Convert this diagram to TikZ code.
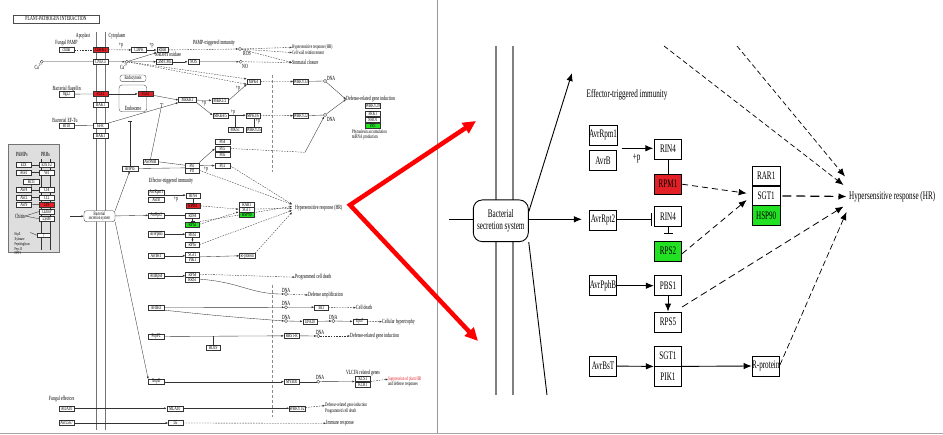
\documentclass[tikz,border=0pt]{standalone}
\usepackage{fontspec}
\setmainfont{Liberation Serif}
\newfontfamily\cnd[FakeStretch=0.62]{Liberation Serif}
\usetikzlibrary{arrows.meta}
\definecolor{kred}{RGB}{226,32,38}
\definecolor{kgrn}{RGB}{34,224,34}
\definecolor{lgfill}{RGB}{222,222,222}
\newcommand\lfnt{\cnd\fontsize{6.3}{6.6}\selectfont}
\newcommand\tfnt{\cnd\fontsize{5.4}{5.6}\selectfont}
\newcommand\bfnt{\cnd\fontsize{5.6}{5.8}\selectfont}
\newcommand\sfnt{\cnd\fontsize{4.3}{2.6}\selectfont}
\newcommand\rfnt{\cnd\fontsize{11.5}{12.5}\selectfont}
\begin{document}
\begin{tikzpicture}[x=1pt,y=-1pt,
  lb/.style={draw=black!80, line width=0.35pt, fill=white, minimum width=15pt, minimum height=5pt, inner sep=0pt, font=\bfnt},
  lred/.style={lb, fill=kred},
  lgrn/.style={lb, fill=kgrn},
  lt/.style={font=\lfnt, inner sep=0pt},
  lts/.style={font=\tfnt, inner sep=0pt, anchor=west},
  ll/.style={line width=0.35pt, draw=black!80},
  la/.style={ll, -{Latex[length=2.4pt,width=2pt]}},
  ld/.style={ll, dash pattern=on 1.6pt off 1.1pt},
  lda/.style={ld, -{Latex[length=2.4pt,width=2pt]}},
  lbar/.style={ll, -{Bar[width=4pt]}},
  dnac/.style={circle, draw=black!80, line width=0.35pt, inner sep=0pt, minimum size=3.2pt, fill=white},
  mem/.style={draw=black!55, line width=1.2pt},
  nuc/.style={draw=black!45, line width=0.8pt, dash pattern=on 3pt off 2pt},
  rb/.style={draw, line width=0.8pt, fill=white, minimum width=27.4pt, minimum height=20pt, inner sep=0pt, font=\rfnt},
  rred/.style={rb, fill=kred},
  rgrn/.style={rb, fill=kgrn},
  rl/.style={line width=0.9pt},
  ra/.style={rl, -{Latex[length=8pt,width=6.5pt]}},
  rd/.style={line width=0.8pt, dash pattern=on 6pt off 4pt, -{Latex[length=8pt,width=6.5pt]}},
  rdthick/.style={line width=1.2pt, dash pattern=on 9pt off 5pt, -{Latex[length=8pt,width=6.5pt]}},
  rmem/.style={draw=black!50, line width=1.7pt},
  bigred/.style={draw=red, line width=4.5pt, line join=miter}
]
\useasboundingbox (0,0) rectangle (943,435);
\fill[white] (0,0) rectangle (943,435);

% ---------------- frame lines
\draw[draw=black!40, line width=1pt] (437,0) -- (437,433);
\draw[draw=black!35, line width=1pt] (0,433.5) -- (943,433.5);

% ================= overview map =================
\node[draw=black!70, line width=0.4pt, minimum width=86.6pt, minimum height=7.7pt, inner sep=0pt, font=\lfnt] (title) at (56,18.9) {PLANT-PATHOGEN INTERACTION};
\node[lt] (apo) at (83,36) {Apoplast};
\node[lt] (cyto) at (117,36) {Cytoplasm};

% plasma membrane
\draw[mem] (96.5,32) -- (96.5,430);
\draw[mem] (105.5,32) -- (105.5,430);
% nucleus boundary
\draw[nuc] (272.7,75) -- (272.7,172);
\draw[nuc] (272.7,285) -- (272.7,417);

% endosome
\node[draw=black!70, line width=0.35pt, rounded corners=3pt, minimum width=27.7pt, minimum height=26.7pt, inner sep=0pt] (endo) at (132.9,98.4) {};
\node[lt] (endol) at (133,108.3) {Endosome};
\node[draw=black!70, line width=0.35pt, rounded corners=2.5pt, minimum width=26pt, minimum height=6.7pt, inner sep=0pt, font=\bfnt] (endoc) at (133,78.3) {Endocytosis};

% PAMP-triggered immunity
\node[lt] (fpl) at (66.5,42.7) {Fungal PAMP};
\node[lb] (chit) at (66.5,49.7) {chitin};
\node[lred] (cerk) at (100.5,49.7) {CERK1};
\node[lb] (cdpk) at (139,50) {CDPK};
\node[lb, minimum width=11.6pt] (rboh) at (162.5,50) {Rboh};
\node[lt] (pp1) at (121,45.5) {+p};
\node[lt] (pp2) at (151.5,45.5) {+p};
\node[lt] (nadph) at (168,54.8) {NADPH oxidase};
\node[lt] (ptil) at (214,42.5) {PAMP-triggered immunity};
\node[dnac] (ros) at (240,49) {};
\node[lt] (rosl) at (247,53) {ROS};
\node[lts] (hr1) at (292,47.4) {Hypersensitive response (HR)};
\node[lts] (cwr) at (292,52.6) {Cell wall reinforcement};
\node[dnac] (ca1) at (41.7,61.7) {};
\node[lt] (ca1l) at (38.5,66.8) {Ca\textsuperscript{2+}};
\node[lb] (cngc) at (100.5,61.8) {CNGCs};
\node[dnac] (ca2) at (126.7,61.7) {};
\node[lt] (ca2l) at (124,66.8) {Ca\textsuperscript{2+}};
\node[lb] (cam) at (164,61.8) {CaM/CML};
\node[lb, minimum width=11.6pt] (nos) at (193.5,61.8) {NOS};
\node[dnac] (no) at (240.7,61.7) {};
\node[lt] (nol) at (245,66) {NO};
\node[lt, anchor=west] (stom) at (292,62.6) {Stomatal closure};

\node[lt] (flagl) at (66.7,88.5) {Bacterial flagellin};
\node[lb] (flg) at (66.5,94.2) {flg22};
\node[lred] (fls2) at (100.5,93.9) {FLS2};
\node[lb] (bak1a) at (100.5,104.5) {BAK1};
\node[lred] (fls2e) at (145.5,93.9) {FLS2};
\node[lb, minimum width=18pt] (mekk1) at (187.5,100) {MEKK1};
\node[lb, minimum width=16.6pt] (mkk12) at (220,100.5) {MKK1/2};
\node[lb, minimum width=13pt] (mpk4) at (253.5,81.6) {MPK4};
\node[lb, minimum width=15.6pt] (mkk45) at (220.5,115.2) {MKK4/5};
\node[lb, minimum width=14pt] (mpk36) at (253,115.2) {MPK3/6};
\node[lb] (mks1) at (235.2,129.2) {MKS1};
\node[lb] (wrky25) at (253.8,129.2) {WRKY25};
\node[lt] (pp3) at (204,103.5) {+p};
\node[lt] (pp4) at (238,88.5) {+p};
\node[lt] (pp5) at (233,112.5) {+p};
\node[lt] (pp6) at (258,121.5) {+p};
\node[lb] (wrky33) at (300.8,81.5) {WRKY33};
\node[dnac] (dna1) at (325,81) {};
\node[lt] (dna1l) at (331,78) {DNA};
\node[lt, anchor=west] (dgi1) at (346,99.3) {Defense-related gene induction};
\node[lb, minimum width=14.3pt] (g1) at (372.8,106) {WRKY29};
\node[lb, minimum width=14.3pt] (g2) at (372.8,113.3) {FRK1};
\node[lb, minimum width=14.3pt] (g3) at (372.8,119.8) {NHO1};
\node[lgrn, minimum width=14.3pt] (g4) at (372.8,125.8) {PR1};
\node[lts] (phyto) at (351.7,132) {Phytoalexin accumulation};
\node[lts] (mirna) at (351.7,137.2) {miRNA production};
\node[lb] (wrky22) at (300.8,115.8) {WRKY22};
\node[dnac] (dna2) at (325,115) {};
\node[lt] (dna2l) at (331,119.5) {DNA};

\node[lt] (eftul) at (65,120) {Bacterial EF-Tu};
\node[lb] (elf) at (66.5,125.5) {elf18};
\node[lb] (efr) at (100.5,125.8) {EFR};
\node[lb] (bak1b) at (100.5,135.8) {BAK1};

% effector-triggered immunity
\node[lb] (pti4) at (222.5,141.8) {Pti4};
\node[lb] (pti5) at (222.5,148.5) {Pti5};
\node[lb] (pti6) at (222.5,154.8) {Pti6};
\node[lb, minimum width=16pt] (avrpto) at (129.7,168.5) {AvrPto};
\node[lb, minimum width=15.6pt] (avrptob) at (150.5,161.8) {AvrPtoB};
\node[lb, minimum width=14pt] (pto) at (192,165.2) {Pto};
\node[lb, minimum width=14pt] (prf) at (192,170.2) {Prf};
\node[lb] (pti1) at (222.5,165.8) {Pti1};
\node[lt] (pp7) at (206,169) {+p};
\node[lt] (etil) at (171,180.7) {Effector-triggered immunity};
\node[lb, minimum width=15.7pt] (avrrpm1) at (156.2,192.5) {AvrRpm1};
\node[lb, minimum width=15.7pt] (avrb) at (156.2,199.2) {AvrB};
\node[lb, minimum width=14pt] (rin4a) at (193,195.8) {RIN4};
\node[lred, minimum width=14pt] (rpm1) at (193,205.2) {RPM1};
\node[lt] (pp8) at (176,199.5) {+p};
\node[lb, minimum width=15.7pt] (rar1) at (246.7,204.2) {RAR1};
\node[lb, minimum width=15.7pt] (sgt1a) at (246.7,209.2) {SGT1};
\node[lgrn, minimum width=15.7pt] (hsp) at (246.7,214.5) {HSP90};
\node[lt, anchor=west] (hrl) at (295,208.3) {Hypersensitive response (HR)};
\coordinate (hrA) at (292,204.3);
\coordinate (hrB) at (292,206.3);
\coordinate (hrC) at (292,208.3);
\coordinate (hrD) at (292,210.3);
\coordinate (hrE) at (292,212.3);
\node[lb, rounded corners=2.5pt, minimum width=31pt, minimum height=11pt, align=center, font=\cnd\fontsize{5.2}{4.6}\selectfont] (sec) at (99.5,216.2) {Bacterial\\secretion system};
\coordinate (secin) at (70,216.2);
\node[lb, minimum width=15.7pt] (avrrpt2) at (156.2,215.2) {AvrRpt2};
\node[lb, minimum width=14pt] (rin4b) at (192.5,215.2) {RIN4};
\node[lgrn, minimum width=14pt] (rps2) at (192.5,224.2) {RPS2};
\node[lb, minimum width=15.7pt] (avrpphb) at (156.2,234.2) {AvrPphB};
\node[lb, minimum width=14pt] (pbs1) at (192.5,234.2) {PBS1};
\node[lb, minimum width=14pt] (rps5) at (192.5,244.5) {RPS5};
\node[lb, minimum width=15.7pt] (avrbst) at (156.2,255.8) {AvrBsT};
\node[lb, minimum width=14pt] (sgt1b) at (192.5,254.2) {SGT1};
\node[lb, minimum width=14pt] (pik1) at (192.5,259.2) {PIK1};
\node[lb, minimum width=15.7pt] (rprot) at (247.2,255.8) {R-protein};
\node[lb, minimum width=15.7pt] (avrrps4) at (156.2,275.8) {AvrRps4};
\node[lb, minimum width=14pt] (rps4) at (192.5,274.2) {RPS4};
\node[lb, minimum width=14pt] (rrs1) at (192.5,279.2) {RRS1};
\node[lt, anchor=west] (pcd1) at (295,277.2) {Programmed cell death};
\node[dnac] (dna3) at (286,294) {};
\node[lt] (dna3l) at (286,290) {DNA};
\node[lt, anchor=west] (defamp) at (308,295) {Defense amplification};
\node[lb, minimum width=15.7pt] (avrbs3) at (156.2,307.5) {AvrBs3};
\node[dnac] (dna4) at (286,307.3) {};
\node[lt] (dna4l) at (286,303.3) {DNA};
\node[lb, minimum width=14pt] (bs3) at (321.3,307.2) {Bs3};
\node[lt, anchor=west] (celld) at (356,307.7) {Cell death};
\node[dnac] (dna5) at (286,321) {};
\node[lt] (dna5l) at (286,317) {DNA};
\node[lb, minimum width=14.6pt] (upa20) at (310,321.5) {UPA20};
\node[dnac] (dna6) at (333.3,321) {};
\node[lt] (dna6l) at (333.3,317) {DNA};
\node[lb, minimum width=14pt] (upa7) at (359.7,321.5) {Upa7};
\node[lt, anchor=west] (hyper) at (382,321.7) {Cellular hypertrophy};
\node[lb, minimum width=15.7pt] (popp2) at (156.2,336.5) {PopP2};
\node[lb, minimum width=14.6pt] (rd19) at (213.3,347.5) {RD19};
\node[lb, minimum width=15.3pt] (rrs1r) at (291.7,335.8) {RRS1-R};
\node[dnac] (dna7) at (318.3,336) {};
\node[lt] (dna7l) at (320,332) {DNA};
\node[lt, anchor=west] (dgi2) at (350,336) {Defense-related gene induction};
\node[lb, minimum width=15.7pt] (xopd) at (156.2,381.7) {XopD};
\node[lb, minimum width=15.3pt] (myb30) at (291.7,381.7) {MYB30};
\node[dnac] (dna8) at (318.3,381.7) {};
\node[lt] (dna8l) at (320,377.5) {DNA};
\node[lt] (vlcfa) at (363,372.7) {VLCFA related genes};
\node[lb, minimum width=15.7pt] (kcs1) at (362.8,378.8) {KCS1};
\node[lb, minimum width=15.7pt] (kcr1) at (362.8,385) {KCR1};
\node[lts, text=kred] (supp) at (388,379.2) {Suppression of plant HR};
\node[lts] (supp2) at (388,384.4) {and defense responses};
\node[lt] (fungl) at (61.7,399.3) {Fungal effectors};
\node[lb] (avra10) at (66.7,408.3) {AvrA10};
\node[lb, minimum width=16pt] (mla10) at (174.7,408.3) {MLA10};
\node[lb, minimum width=15.7pt] (wrky12) at (297.2,408.3) {WRKY1/2};
\node[lts] (dgi3) at (325,405.6) {Defense-related gene induction};
\node[lts] (pcd2) at (325,410.8) {Programmed cell death};
\node[lb] (avrl) at (66.7,423) {AvrL567};
\node[lb, minimum width=14.4pt] (l6) at (175.5,423) {L6};
\node[lt, anchor=west] (immune) at (326,423.3) {Immune response};

% legend of further PAMPs / PRRs
\node[draw=black!55, line width=1pt, fill=lgfill, minimum width=51pt, minimum height=107.3pt, inner sep=0pt] (legend) at (33.8,198.6) {};
\draw[ll] (41,159) -- (41,250);
\draw[ll] (50,159) -- (50,250);
\node[lt] (pampsl) at (21.7,154) {PAMPs};
\node[lt] (prrsl) at (45.5,154) {PRRs};
\node[lb, minimum width=15.7pt] (eix) at (23.8,164.8) {EIX};
\node[lb, minimum width=15.7pt] (ave1) at (23.8,172.3) {Ave1};
\node[lb, minimum width=16pt] (rcr3) at (31.3,181.5) {Rcr3};
\node[lb, minimum width=15.7pt] (avr4) at (23.8,189.8) {Avr4};
\node[lb, minimum width=15.7pt] (avr2) at (23.8,197.2) {Avr2};
\node[lb, minimum width=15.7pt] (avr9) at (23.8,204.8) {Avr9};
\node[lb, minimum width=14.7pt] (eixr) at (46.7,164.8) {EIX1/2};
\node[lb, minimum width=14.7pt] (ve1) at (46.7,172.3) {Ve1};
\node[lb, minimum width=14.7pt] (cf4) at (46.7,189.8) {Cf4};
\node[lb, minimum width=14.7pt] (cf2) at (46.7,197.2) {Cf2};
\node[lred, minimum width=14.7pt] (cf9) at (46.7,204.5) {Cf9};
\node[lb, minimum width=14.7pt] (cebip) at (46.7,211.5) {CEBiP};
\node[lb, minimum width=14.7pt] (lysm) at (46.7,218.8) {LysM};
\node[lt] (chitl) at (20,216) {Chitin};
\node[font=\sfnt, inner sep=0pt, align=left, anchor=north west] (misc) at (14.5,232.5) {HrpZ\\Xylanase\\Peptidoglycan\\Pep-13\\NPP1};
\node[lb, minimum width=12.7pt, minimum height=4pt] (unk) at (43.7,235.3) {?};
\draw[ll] (eix) -- (eixr);
\draw[ll] (ave1) -- (ve1);
\draw[ll] (avr4) -- (cf4);
\draw[ll] (avr2) -- (cf2);
\draw[ll] (avr2.north east) -- (rcr3.south);
\draw[ll] (avr9) -- (cf9);
\draw[ll] (chitl.east) -- (cebip.west);
\draw[ll] (chitl.east) -- (lysm.west);
\draw[ll] (misc.north east) -- (unk.west);

% ---- connectors, PAMP-triggered immunity
\draw[ld] (chit) -- (cerk);
\draw[lda] (cerk) -- (cdpk);
\draw[la] (cdpk) -- (rboh);
\draw[lda] (rboh) -- (ros);
\draw[lda] (ros) -- (hr1.west);
\draw[lda] (ros) -- (cwr.west);
\draw[lda] (ros) -- (stom.west);
\draw[ll] (ca1) -- (cngc);
\draw[la] (cngc) -- (ca2);
\draw[la] (ca2) -- (cam);
\draw[la] (cam) -- (nos);
\draw[la] (nos) -- (no);
\draw[lda] (no) -- (stom.west);
\draw[la] (ca2) -- (rboh.south west);
\draw[lda] (ca2) -- (mpk4.north west);
\draw[lda] (ca2) -- (mpk4.south west);
\draw[ll] (flg) -- (fls2);
\draw[la] (fls2) -- (fls2e);
\draw[la] (fls2e) -- (mekk1.west);
\draw[ll] (elf) -- (efr);
\draw[la] (efr.north east) -- (mekk1.south west);
\draw[la] (mekk1) -- (mkk12);
\draw[la] (mkk12.east) -- (mpk4.south west);
\draw[la] (mekk1.south east) -- (mkk45.west);
\draw[la] (mkk45) -- (mpk36);
\draw[ll] (mks1.north) -- (mks1.north |- mpk36.west);
\draw[ll] (wrky25.north) -- (wrky25.north |- mpk36.south);
\draw[lda] (mpk4) -- (wrky33);
\draw[ll] (wrky33) -- (dna1);
\draw[la] (dna1) -- (dgi1.west);
\draw[lda] (mpk36) -- (wrky22);
\draw[ll] (wrky22) -- (dna2);
\draw[la] (dna2) -- (dgi1.west);

% ---- connectors, effector-triggered immunity
\coordinate (ptoinh) at (129.7,121.5);
\coordinate (fls2inh) at (162,103.5);
\coordinate (ptibend) at (305,152.3);
\draw[la] (secin) -- (sec);
\draw[la] (sec.north east) -- (avrpto.south);
\draw[lbar] (avrpto.north) -- (ptoinh);
\draw[lbar] (avrptob.north) -- (fls2inh);
\draw[ll] (avrpto.east) -- (pto.south west);
\draw[ll] (avrptob.east) -- (pto.west);
\draw[la] (pto) -- (pti1);
\draw[la] (pto.north east) -- (pti5.west);
\draw[ld] (pti5.east) -- (ptibend);
\draw[la] (ptibend) -- (dna2);
\draw[lda] (prf.east) -- (hrA);
\draw[lda] (pti1.east) -- (hrA);
\draw[la] (avrrpm1.south east) -- (avrrpm1.south east -| rin4a.west);
\draw[ll] (rin4a) -- (rpm1);
\draw[lda] (rpm1) -- (sgt1a.west);
\draw[lda] (sgt1a) -- (hrC);
\draw[la] (sec) -- (avrrpt2);
\draw[lbar] (avrrpt2) -- (rin4b);
\draw[lbar] (rin4b) -- (rps2);
\draw[lda] (rps2.east) -- (sgt1a.south west);
\draw[la] (avrpphb) -- (pbs1);
\draw[la] (pbs1) -- (rps5);
\draw[lda] (rps5.east) -- (hrD);
\draw[la] (avrbst) -- (avrbst -| sgt1b.west);
\draw[la] (sgt1b.south east) -- (rprot.west);
\draw[lda] (rprot.north east) -- (hrE);
\draw[lda] (rps2.north east) -- (hrB);
\draw[la] (avrrps4) -- (avrrps4 -| rps4.west);
\draw[lda] (rps4.east) -- (pcd1.west);
\draw[la] (rrs1.east) .. controls (240,282) and (250,294) .. (dna3.west);
\draw[lda] (dna3) -- (defamp.west);
\draw[la] (avrbs3) -- (dna4);
\draw[la] (avrbs3.south east) .. controls (220,316) .. (dna5.west);
\draw[la] (dna4) -- (bs3);
\draw[lda] (bs3) -- (celld.west);
\draw[la] (dna5) -- (upa20);
\draw[la] (upa20) -- (dna6);
\draw[la] (dna6) -- (upa7);
\draw[lda] (upa7) -- (hyper.west);
\draw[la] (popp2) -- (rrs1r);
\draw[ll] (rd19.north) -- (rd19.north |- popp2.east);
\draw[la] (rrs1r) -- (dna7);
\draw[lda] (dna7) -- (dgi2.west);
\draw[la] (sec.south east) -- (xopd.north west);
\draw[la] (xopd) -- (myb30);
\draw[ll] (myb30) -- (dna8);
\draw[la] (dna8) -- (kcs1.south west);
\draw[lda] (kcs1.south east) -- (supp.west);
\draw[la] (avra10) -- (mla10);
\draw[la] (mla10) -- (wrky12);
\draw[lda] (wrky12) -- (dgi3.west);
\draw[la] (avrl) -- (l6);
\draw[lda] (l6) -- (immune.west);

% ================= enlarged detail =================
\draw[rmem] (496,46) -- (496,395);
\draw[rmem] (513,46) -- (513,395);
\node[draw, line width=0.9pt, fill=white, rounded corners=9pt, minimum width=55pt, minimum height=41.7pt, inner sep=0pt, align=center, font=\rfnt] (rsec) at (500.8,220.8) {Bacterial\\secretion system};
\coordinate (rin) at (449,219.3);
\coordinate (rup) at (572,73);
\coordinate (rdown) at (547,395);
\draw[rl] (rin) -- (rsec.west |- rin);
\draw[ra] ([yshift=9pt]rsec.east) -- (rup);
\draw[rl] (rsec.south east) -- (rdown);

\node[font=\rfnt, anchor=west, inner sep=0pt] (reti) at (586.5,95) {Effector-triggered immunity};

\node[rb] (ravrrpm1) at (603,135) {AvrRpm1};
\node[rb] (ravrb) at (603,160.7) {AvrB};
\node[rb] (rrin4a) at (668,149.2) {RIN4};
\node[rred] (rrpm1) at (668,184.2) {RPM1};
\node[font=\rfnt, inner sep=0pt] (rpp) at (636.7,158.3) {+p};
\node[rb] (ravrrpt2) at (603,220) {AvrRpt2};
\node[rb] (rrin4b) at (668,216.7) {RIN4};
\node[rgrn] (rrps2) at (668,251.2) {RPS2};
\node[rb, minimum height=19.8pt] (rrar1) at (766.2,176) {RAR1};
\node[rb, minimum height=19.8pt] (rsgt1) at (766.2,195.9) {SGT1};
\node[rgrn, minimum height=19.8pt] (rhsp) at (766.2,215.7) {HSP90};
\node[rb] (ravrpphb) at (603,285.7) {AvrPphB};
\node[rb] (rpbs1) at (668,285.7) {PBS1};
\node[rb] (rrps5) at (668,322) {RPS5};
\node[rb] (ravrbst) at (603,366) {AvrBsT};
\node[rb] (rsgt1b) at (668,356) {SGT1};
\node[rb, minimum height=20.3pt] (rpik1) at (668,376.3) {PIK1};
\node[rb] (rrprot) at (765.8,366) {R-protein};
\node[font=\rfnt, anchor=west, inner sep=0pt] (rhr) at (849,196.5) {Hypersensitive response (HR)};

\coordinate (rtop1) at (664,46);
\coordinate (rtop2) at (737,46);
\coordinate (rhA) at (845,176.5);
\coordinate (rhB) at (843.5,185);
\coordinate (rhC) at (846.5,196.5);
\coordinate (rhD) at (843.5,206.5);
\coordinate (rhE) at (846.5,212);
\coordinate (rinto) at (653.3,148.3);
\coordinate (rfrom) at (621.7,148.3);

\draw[ra] (rfrom) -- (rinto);
\draw[rl] (rrin4a) -- (rrpm1);
\draw[ra] (rsec.east |- rin) -- ([xshift=-7pt]ravrrpt2.west |- rin);
\draw[rl, -{Bar[width=13pt]}] (ravrrpt2.east |- rin) -- ([xshift=-2.5pt]rrin4b.west |- rin);
\coordinate (rbar) at (668,234);
\draw[rl, -{Bar[width=9pt]}] (rrin4b.south) -- (rbar);
\draw[ra] (ravrpphb) -- (rpbs1);
\draw[ra] (rpbs1) -- (rrps5);
\draw[ra] (ravrbst) -- (rsgt1b.south west);
\draw[ra] (rsgt1b.south east) -- (rrprot.west);
\coordinate (rsgtL1) at (746.7,193.3);
\coordinate (rsgtL2) at (746.7,200);
\draw[rd] (rrpm1.east) -- (rsgtL1);
\draw[rd] ([yshift=-2.5pt]rrps2.east) -- (rsgtL2);
\draw[rdthick] ([xshift=2pt]rsgt1.east) -- (rhC);
\draw[rd, line width=0.7pt, dash pattern=on 5pt off 3pt] (rtop1) -- (rhB);
\draw[rd, line width=0.7pt, dash pattern=on 5pt off 3pt] (rtop2) -- (rhA);
\draw[rd, dash pattern=on 7pt off 4pt] ([yshift=15pt]rrps5.east) -- (rhD);
\draw[rd, line width=0.7pt, dash pattern=on 6pt off 3pt] ([yshift=1pt]rrprot.east) -- (rhE);

% ================= zoom pointer =================
\coordinate (zv) at (350,205);
\coordinate (zu) at (476,121);
\coordinate (zd) at (478,341);
\draw[bigred, {Triangle[length=13pt,width=12pt]}-{Triangle[length=13pt,width=12pt]}] (zu) -- (zv) -- (zd);
\end{tikzpicture}
\end{document}
